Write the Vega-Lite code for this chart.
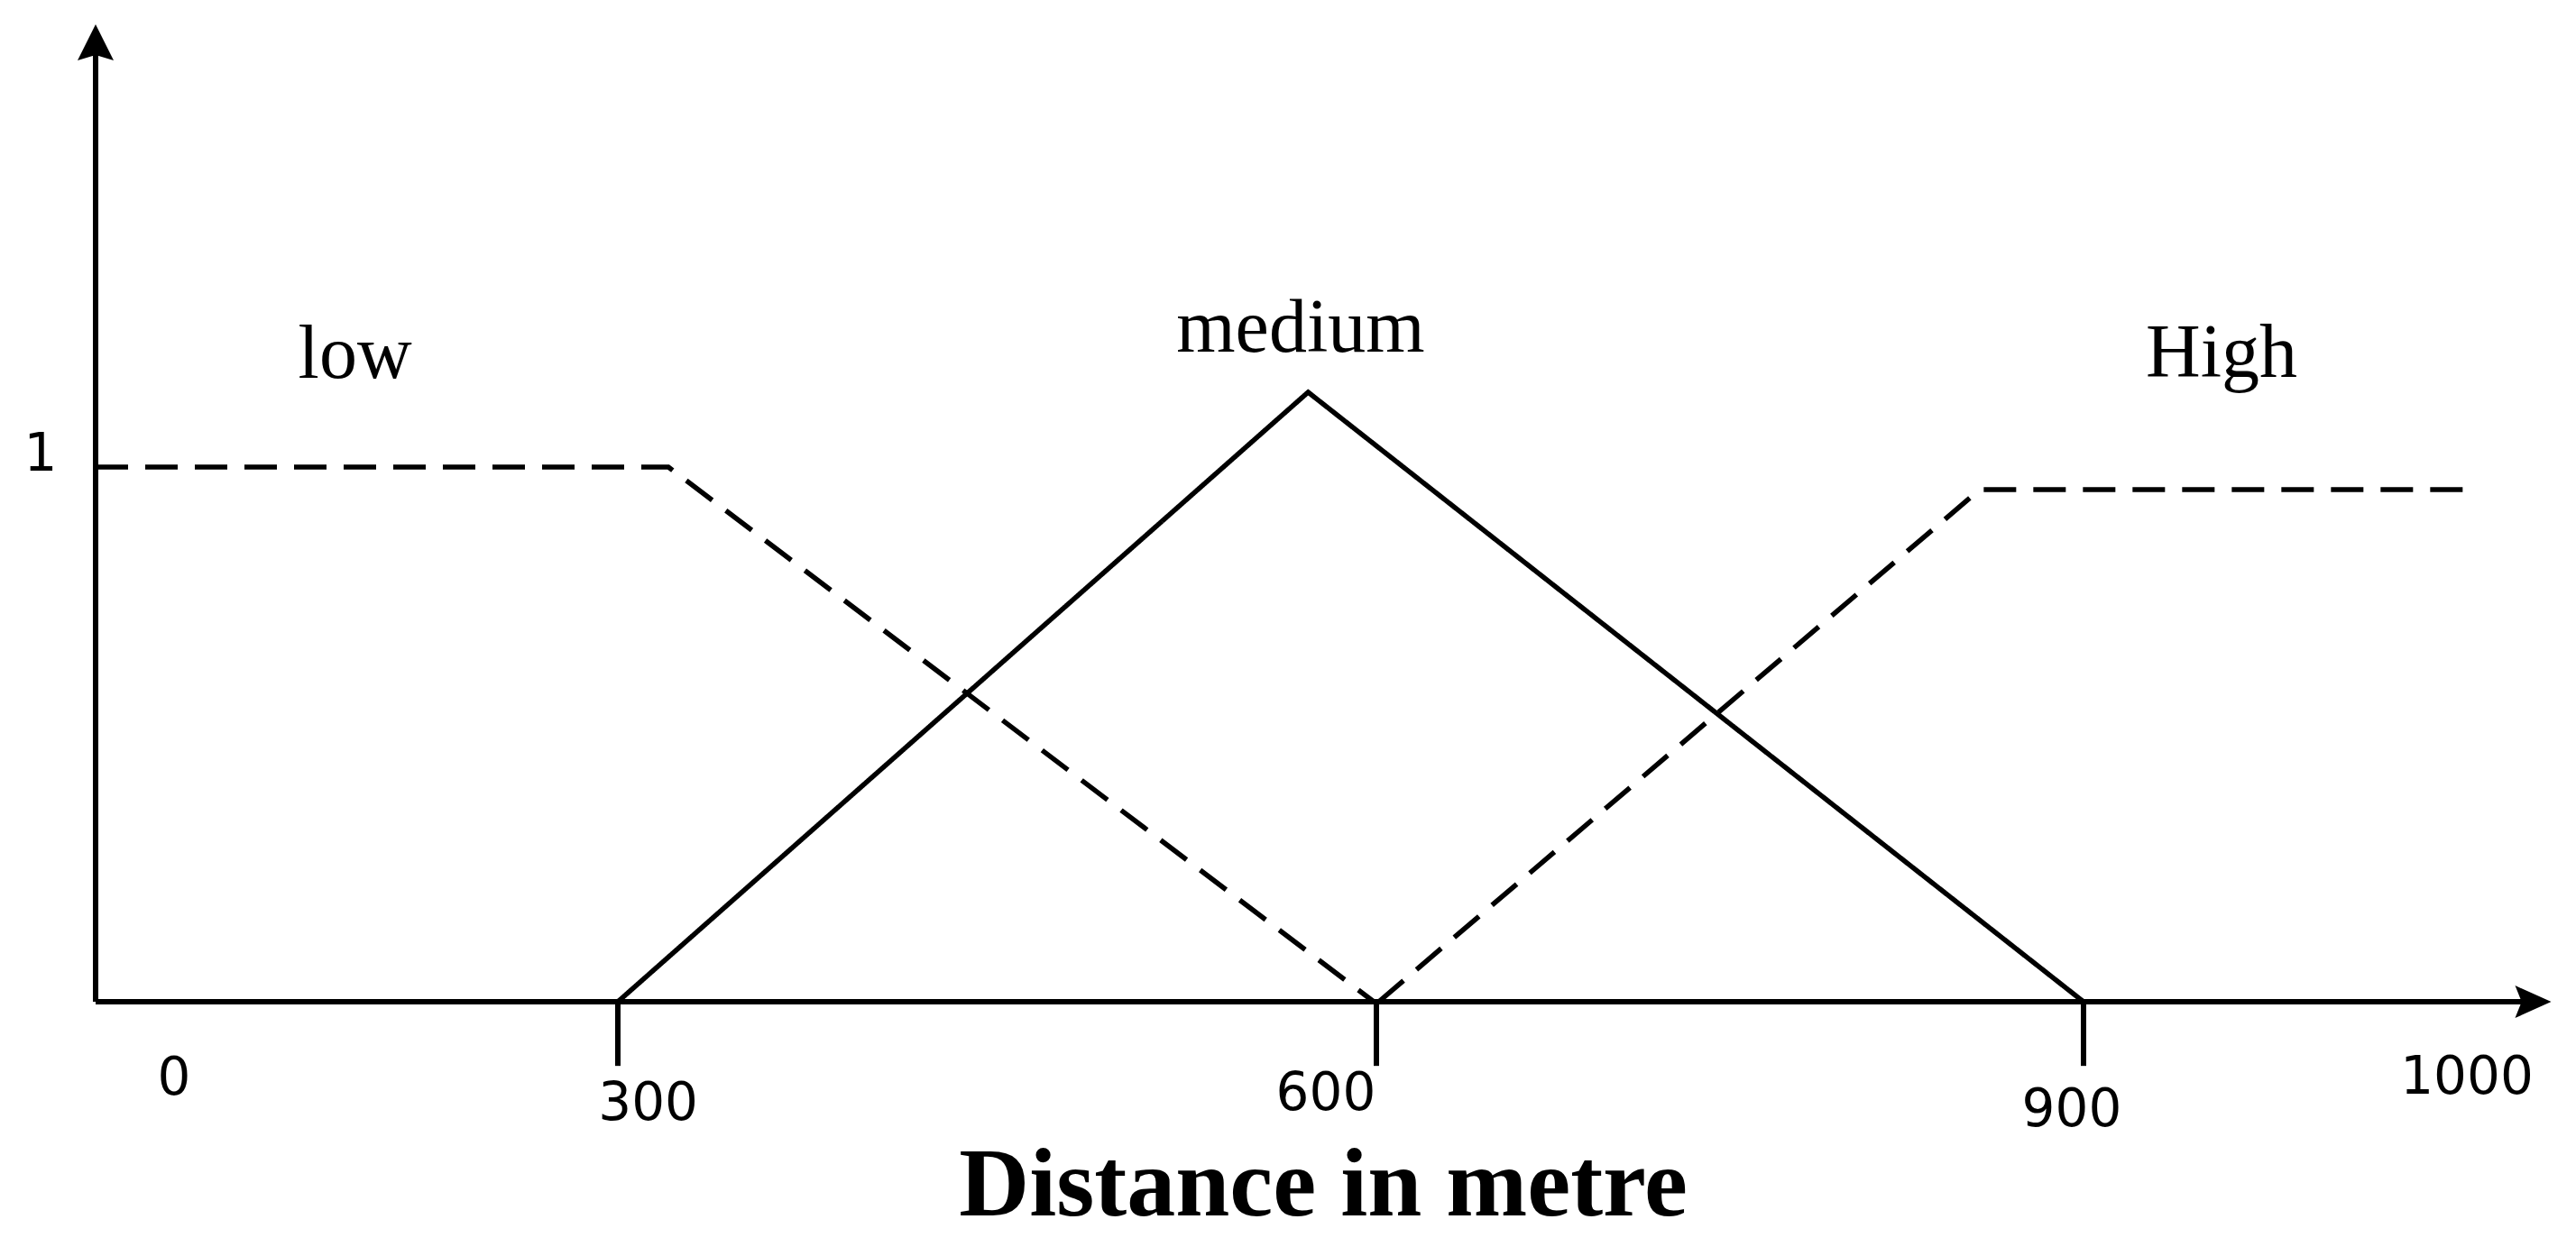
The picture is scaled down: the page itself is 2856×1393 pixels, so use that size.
{
  "$schema": "https://vega.github.io/schema/vega-lite/v6.json",
  "width": 2856,
  "height": 1393,
  "padding": 0,
  "autosize": {"type": "none"},
  "background": "white",
  "config": {"view": {"stroke": null}},
  "datasets": {
    "curves": [
      {"set": "low", "d": 0, "m": 1},
      {"set": "low", "d": 320, "m": 1},
      {"set": "low", "d": 599, "m": 0},
      {"set": "medium", "d": 300, "m": 0},
      {"set": "medium", "d": 573, "m": 1.14},
      {"set": "medium", "d": 900, "m": 0},
      {"set": "High", "d": 601, "m": 0},
      {"set": "High", "d": 856, "m": 0.958},
      {"set": "High", "d": 1001, "m": 0.958}
    ],
    "axes": [
      {"axis": "x", "d": 0, "d2": 1016, "m": 0, "m2": 0},
      {"axis": "y", "d": 0, "d2": 0, "m": 0, "m2": 1.79}
    ],
    "arrows": [
      {"axis": "x", "d": 1022, "m": 0},
      {"axis": "y", "d": 0, "m": 1.828}
    ],
    "ticks": [
      {"d": 300, "m": 0, "m2": -0.12},
      {"d": 600, "m": 0, "m2": -0.12},
      {"d": 900, "m": 0, "m2": -0.12}
    ],
    "tickLabels": [
      {"text": "0", "d": 45, "m": -0.145},
      {"text": "300", "d": 312, "m": -0.192},
      {"text": "600", "d": 580, "m": -0.174},
      {"text": "900", "d": 895, "m": -0.204},
      {"text": "1000", "d": 1000, "m": -0.143},
      {"text": "1", "d": -31.6, "m": 1.022}
    ],
    "setLabels": [
      {"text": "low", "d": 149, "m": 1.167},
      {"text": "medium", "d": 570, "m": 1.216},
      {"text": "High", "d": 936, "m": 1.169}
    ],
    "title": [
      {"text": "Distance in metre", "d": 579, "m": -0.4}
    ]
  },
  "layer": [
    {
      "data": {"name": "axes"},
      "mark": {"type": "rule", "color": "black", "strokeWidth": 6, "strokeCap": "butt"},
      "encoding": {
        "x": {"field": "d", "type": "quantitative", "axis": null, "scale": {"domain": [0, 300, 600, 900, 1000], "range": [106, 685, 1526, 2310, 2735], "nice": false, "zero": false}},
        "x2": {"field": "d2"},
        "y": {"field": "m", "type": "quantitative", "axis": null, "scale": {"domain": [0, 1], "range": [1111, 518], "nice": false, "zero": false}},
        "y2": {"field": "m2"}
      }
    },
    {
      "data": {"name": "ticks"},
      "mark": {"type": "rule", "color": "black", "strokeWidth": 6, "strokeCap": "butt"},
      "encoding": {
        "x": {"field": "d", "type": "quantitative", "axis": null, "scale": {"domain": [0, 300, 600, 900, 1000], "range": [106, 685, 1526, 2310, 2735], "nice": false, "zero": false}},
        "y": {"field": "m", "type": "quantitative", "axis": null, "scale": {"domain": [0, 1], "range": [1111, 518], "nice": false, "zero": false}},
        "y2": {"field": "m2"}
      }
    },
    {
      "data": {"name": "curves"},
      "mark": {"type": "line", "color": "black", "strokeWidth": 5.5, "strokeCap": "butt", "strokeJoin": "miter"},
      "encoding": {
        "x": {"field": "d", "type": "quantitative", "axis": null, "scale": {"domain": [0, 300, 600, 900, 1000], "range": [106, 685, 1526, 2310, 2735], "nice": false, "zero": false}},
        "y": {"field": "m", "type": "quantitative", "axis": null, "scale": {"domain": [0, 1], "range": [1111, 518], "nice": false, "zero": false}},
        "detail": {"field": "set"},
        "strokeDash": {"field": "set", "type": "nominal", "legend": null, "scale": {"domain": ["low", "medium", "High"], "range": [[36, 19], [1, 0], [36, 19]]}}
      }
    },
    {
      "data": {"name": "arrows"},
      "transform": [{"filter": "datum.axis === 'x'"}],
      "mark": {"type": "point", "filled": true, "color": "black", "opacity": 1, "strokeWidth": 0, "size": 6400, "shape": "M0,0 L-1,-0.45 L-0.82,0 L-1,0.45 Z"},
      "encoding": {
        "x": {"field": "d", "type": "quantitative", "axis": null, "scale": {"domain": [0, 300, 600, 900, 1000], "range": [106, 685, 1526, 2310, 2735], "nice": false, "zero": false}},
        "y": {"field": "m", "type": "quantitative", "axis": null, "scale": {"domain": [0, 1], "range": [1111, 518], "nice": false, "zero": false}}
      }
    },
    {
      "data": {"name": "arrows"},
      "transform": [{"filter": "datum.axis === 'y'"}],
      "mark": {"type": "point", "filled": true, "color": "black", "opacity": 1, "strokeWidth": 0, "size": 6400, "shape": "M0,0 L-0.5,1 L0,0.85 L0.5,1 Z"},
      "encoding": {
        "x": {"field": "d", "type": "quantitative", "axis": null, "scale": {"domain": [0, 300, 600, 900, 1000], "range": [106, 685, 1526, 2310, 2735], "nice": false, "zero": false}},
        "y": {"field": "m", "type": "quantitative", "axis": null, "scale": {"domain": [0, 1], "range": [1111, 518], "nice": false, "zero": false}}
      }
    },
    {
      "data": {"name": "tickLabels"},
      "mark": {"type": "text", "font": "DejaVu Sans", "fontSize": 58, "color": "black", "align": "center", "baseline": "middle"},
      "encoding": {
        "x": {"field": "d", "type": "quantitative", "axis": null, "scale": {"domain": [0, 300, 600, 900, 1000], "range": [106, 685, 1526, 2310, 2735], "nice": false, "zero": false}},
        "y": {"field": "m", "type": "quantitative", "axis": null, "scale": {"domain": [0, 1], "range": [1111, 518], "nice": false, "zero": false}},
        "text": {"field": "text"}
      }
    },
    {
      "data": {"name": "setLabels"},
      "mark": {"type": "text", "font": "Liberation Serif", "fontSize": 84, "color": "black", "align": "center", "baseline": "alphabetic"},
      "encoding": {
        "x": {"field": "d", "type": "quantitative", "axis": null, "scale": {"domain": [0, 300, 600, 900, 1000], "range": [106, 685, 1526, 2310, 2735], "nice": false, "zero": false}},
        "y": {"field": "m", "type": "quantitative", "axis": null, "scale": {"domain": [0, 1], "range": [1111, 518], "nice": false, "zero": false}},
        "text": {"field": "text"}
      }
    },
    {
      "data": {"name": "title"},
      "mark": {"type": "text", "font": "Liberation Serif", "fontWeight": "bold", "fontSize": 108, "color": "black", "align": "center", "baseline": "alphabetic"},
      "encoding": {
        "x": {"field": "d", "type": "quantitative", "axis": null, "scale": {"domain": [0, 300, 600, 900, 1000], "range": [106, 685, 1526, 2310, 2735], "nice": false, "zero": false}},
        "y": {"field": "m", "type": "quantitative", "axis": null, "scale": {"domain": [0, 1], "range": [1111, 518], "nice": false, "zero": false}},
        "text": {"field": "text"}
      }
    }
  ]
}
